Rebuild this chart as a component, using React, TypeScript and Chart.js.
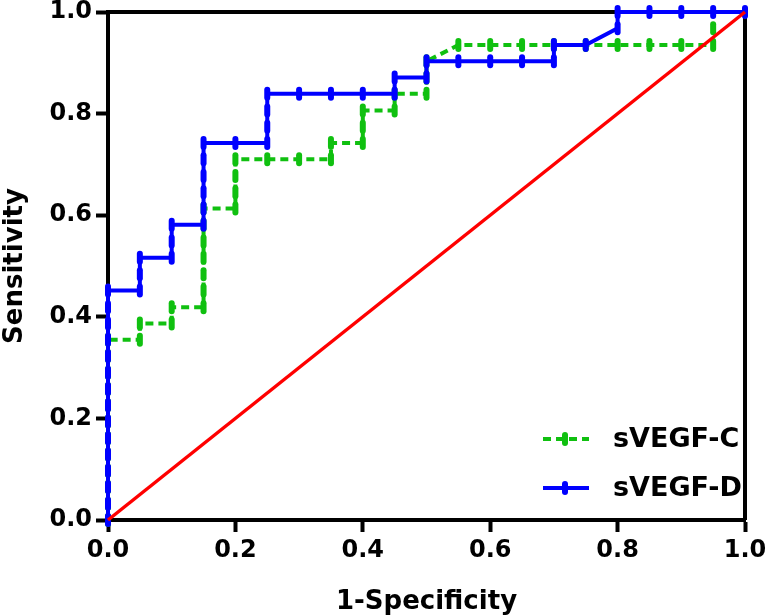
import React, { useEffect, useRef } from "react";
import { Chart, registerables } from "chart.js";

Chart.register(...registerables);

// ---- data ----
const TICK_VALUES = [0, 0.2, 0.4, 0.6, 0.8, 1.0];
const TICK_LABELS = ["0.0", "0.2", "0.4", "0.6", "0.8", "1.0"];

const SERIES_C_NAME = "sVEGF-C";
const SERIES_D_NAME = "sVEGF-D";

// sVEGF-C (1-specificity, sensitivity)
const cFpr = [
  0, 0, 0, 0, 0, 0, 0, 0, 0, 0, 0, 0,
  0.05, 0.05, 0.1, 0.1,
  0.15, 0.15, 0.15, 0.15, 0.15, 0.15, 0.15,
  0.2, 0.2, 0.2, 0.2, 0.25, 0.3, 0.35, 0.35,
  0.4, 0.4, 0.4, 0.45, 0.45, 0.5, 0.5, 0.5,
  0.55, 0.6, 0.65, 0.7, 0.75, 0.8, 0.85, 0.9, 0.95, 0.95,
];
const cTpr = [
  0, 0.032, 0.065, 0.097, 0.129, 0.161, 0.194, 0.226, 0.258, 0.29, 0.323, 0.355,
  0.355, 0.387, 0.387, 0.419,
  0.419, 0.452, 0.484, 0.516, 0.548, 0.581, 0.613,
  0.613, 0.645, 0.677, 0.71, 0.71, 0.71, 0.71, 0.742,
  0.742, 0.774, 0.806, 0.806, 0.839, 0.839, 0.871, 0.903,
  0.935, 0.935, 0.935, 0.935, 0.935, 0.935, 0.935, 0.935, 0.935, 0.968,
];

// sVEGF-D
const dFpr = [
  0, 0, 0, 0, 0, 0, 0, 0, 0, 0, 0, 0, 0, 0, 0,
  0.05, 0.05, 0.05, 0.1, 0.1, 0.1,
  0.15, 0.15, 0.15, 0.15, 0.15, 0.15, 0.2,
  0.25, 0.25, 0.25, 0.25, 0.3, 0.35, 0.4,
  0.45, 0.45, 0.5, 0.5, 0.55, 0.6, 0.65, 0.7, 0.7, 0.75,
  0.8, 0.8, 0.85, 0.9, 0.95, 1,
];
const dTpr = [
  0, 0.032, 0.065, 0.097, 0.129, 0.161, 0.194, 0.226, 0.258, 0.29, 0.323, 0.355, 0.387, 0.419, 0.452,
  0.452, 0.484, 0.516, 0.516, 0.548, 0.581,
  0.581, 0.613, 0.645, 0.677, 0.71, 0.742, 0.742,
  0.742, 0.774, 0.806, 0.839, 0.839, 0.839, 0.839,
  0.839, 0.871, 0.871, 0.903, 0.903, 0.903, 0.903, 0.903, 0.935, 0.935,
  0.968, 1, 1, 1, 1, 1,
];

// reference line
const refX = [0, 1];
const refY = [0, 1];

const GREEN = "#10c010";
const BLUE = "#0000ff";
const RED = "#ff0000";
const FONT = "'DejaVu Sans', sans-serif";

const toPts = (xs: number[], ys: number[]) => xs.map((x, i) => ({ x, y: ys[i] }));

export default function App() {
  const ref = useRef<HTMLCanvasElement>(null);

  useEffect(() => {
    document.body.style.margin = "0";
    const canvas = ref.current!;

    const framePlugin = {
      id: "frame",
      beforeDatasetsDraw(chart: any) {
        const { ctx, chartArea } = chart;
        ctx.save();
        ctx.strokeStyle = "#000";
        ctx.lineWidth = 4;
        ctx.beginPath();
        ctx.moveTo(chartArea.left, chartArea.top);
        ctx.lineTo(chartArea.right + 2, chartArea.top);
        ctx.moveTo(chartArea.right, chartArea.top);
        ctx.lineTo(chartArea.right, chartArea.bottom);
        ctx.stroke();
        ctx.restore();
        ctx.lineCap = "round";
      },
    };

    const legendPlugin = {
      id: "customLegend",
      afterDraw(chart: any) {
        const { ctx } = chart;
        const rows = [
          { name: SERIES_C_NAME, color: GREEN, dash: [8, 5], y: 439 },
          { name: SERIES_D_NAME, color: BLUE, dash: [] as number[], y: 488 },
        ];
        ctx.save();
        for (const r of rows) {
          ctx.strokeStyle = r.color;
          ctx.lineWidth = 4;
          ctx.lineCap = "butt";
          ctx.setLineDash(r.dash);
          ctx.beginPath();
          ctx.moveTo(543, r.y);
          ctx.lineTo(589, r.y);
          ctx.stroke();
          ctx.setLineDash([]);
          ctx.lineCap = "round";
          ctx.lineWidth = 6;
          ctx.beginPath();
          ctx.moveTo(565, r.y - 4);
          ctx.lineTo(565, r.y + 4);
          ctx.stroke();
          ctx.fillStyle = "#000";
          ctx.font = `bold 27px ${FONT}`;
          ctx.textAlign = "left";
          ctx.textBaseline = "middle";
          ctx.fillText(r.name, 613, r.y + 1);
        }
        ctx.restore();
      },
    };

    const tickCfg = {
      color: "#000",
      font: { family: FONT, size: 24, weight: "bold" as const },
      callback: (_v: any, i: number) => TICK_LABELS[i],
    };
    const gridCfg = {
      drawOnChartArea: false,
      drawTicks: true,
      tickLength: 12,
      tickWidth: 4,
      tickColor: "#000",
    };

    const chart = new Chart(canvas, {
      type: "line",
      data: {
        datasets: [
          {
            label: "Reference",
            data: toPts(refX, refY),
            borderColor: RED,
            borderWidth: 3.5,
            pointRadius: 0,
            order: 0,
            clip: false as any,
          },
          {
            label: SERIES_D_NAME,
            data: toPts(dFpr, dTpr),
            borderColor: BLUE,
            backgroundColor: BLUE,
            borderWidth: 4,
            pointStyle: "line",
            rotation: 90,
            pointRadius: 4,
            pointBorderWidth: 6,
            pointBorderColor: BLUE,
            order: 1,
            clip: false as any,
          },
          {
            label: SERIES_C_NAME,
            data: toPts(cFpr, cTpr),
            borderColor: GREEN,
            backgroundColor: GREEN,
            borderWidth: 4,
            borderDash: [8, 5],
            pointStyle: "line",
            rotation: 90,
            pointRadius: 4,
            pointBorderWidth: 6,
            pointBorderColor: GREEN,
            order: 2,
            clip: false as any,
          },
        ],
      },
      options: {
        responsive: false,
        animation: false,
        events: [],
        layout: { padding: { top: 12, right: 22, left: 0, bottom: 0 } },
        plugins: { legend: { display: false }, tooltip: { enabled: false } },
        elements: { line: { tension: 0 } },
        scales: {
          x: {
            type: "linear",
            min: 0,
            max: 1,
            afterBuildTicks: (s: any) => {
              s.ticks = TICK_VALUES.map((v) => ({ value: v }));
            },
            afterFit: (s: any) => {
              s.height = 95;
              s.paddingLeft = 0;
              s.paddingRight = 0;
            },
            ticks: { ...tickCfg, padding: 4, maxRotation: 0, autoSkip: false },
            grid: gridCfg,
            border: { display: true, color: "#000", width: 4 },
            title: {
              display: true,
              text: "1-Specificity",
              color: "#000",
              font: { family: FONT, size: 26, weight: "bold" },
              padding: { top: 0, bottom: -3 },
            },
          },
          y: {
            type: "linear",
            min: 0,
            max: 1,
            afterBuildTicks: (s: any) => {
              s.ticks = TICK_VALUES.map((v) => ({ value: v }));
            },
            afterFit: (s: any) => {
              s.width = 108;
              s.paddingTop = 0;
              s.paddingBottom = 0;
            },
            ticks: { ...tickCfg, padding: 4, autoSkip: false },
            grid: gridCfg,
            border: { display: true, color: "#000", width: 4 },
            title: {
              display: true,
              text: "Sensitivity",
              color: "#000",
              font: { family: FONT, size: 26, weight: "bold" },
              padding: { top: 0, bottom: 0 },
            },
          },
        },
      },
      plugins: [framePlugin, legendPlugin],
    } as any);

    return () => chart.destroy();
  }, []);

  return (
    <canvas
      ref={ref}
      width={767}
      height={615}
      style={{ display: "block", width: 767, height: 615 }}
    />
  );
}
